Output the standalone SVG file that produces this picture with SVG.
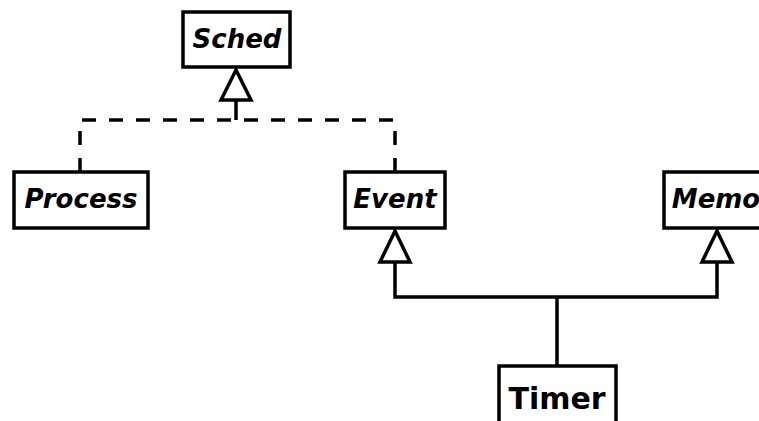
<svg xmlns="http://www.w3.org/2000/svg" width="759" height="421" viewBox="0 0 759 421">
<style>
.box{fill:#fff;stroke:#000;stroke-width:3.5}
.t{font-family:"DejaVu Sans",sans-serif;font-weight:bold;font-style:italic;font-size:26px;text-anchor:middle;fill:#000}
.tb{font-family:"DejaVu Sans",sans-serif;font-weight:bold;font-size:30px;text-anchor:middle;fill:#000}
.ln{fill:none;stroke:#000;stroke-width:3.5}
.dash{stroke-dasharray:14 13}
.tri{fill:#fff;stroke:#000;stroke-width:3.5;stroke-linejoin:miter}
</style>
<rect width="759" height="421" fill="#fff"/>
<g id="connectors">
<path class="ln dash" d="M80,172 V120 H395 V172"/>
<path class="ln" d="M236,100 V120"/>
<polygon class="tri" points="236,70 221,100 251,100"/>
<path class="ln" d="M557,366 V297 M395,262 V297 H717 V262"/>
<polygon class="tri" points="395,231 380,262 410,262"/>
<polygon class="tri" points="717,231 702,262 732,262"/>
</g>
<g id="Sched"><rect class="box" x="183" y="12" width="107" height="55"/><text class="t" x="237" y="48">Sched</text></g>
<g id="Process"><rect class="box" x="14" y="172" width="134" height="56"/><text class="t" x="81" y="208">Process</text></g>
<g id="Event"><rect class="box" x="345" y="172" width="100" height="56"/><text class="t" x="395" y="208">Event</text></g>
<g id="Memo"><rect class="box" x="664" y="172" width="110" height="56"/><text class="t" x="716" y="208">Memo</text></g>
<g id="Timer"><rect class="box" x="499" y="366" width="117" height="70"/><text class="tb" x="557" y="409">Timer</text></g>
</svg>
